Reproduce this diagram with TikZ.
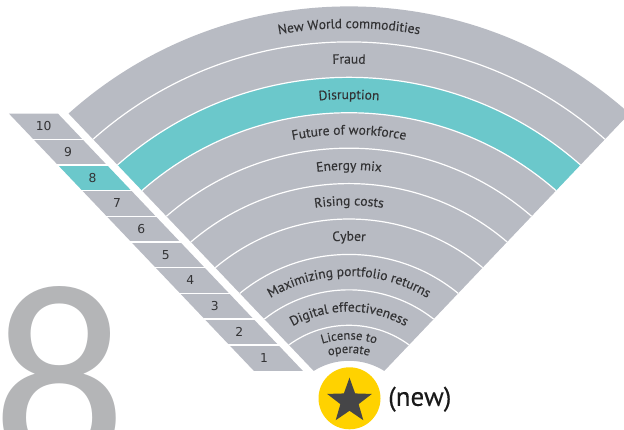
\documentclass[tikz,border=0pt]{standalone}
\usepackage{fontspec}
\setmainfont{PT Sans}[FakeBold=0.25]
\newfontfamily\numfont{DejaVu Sans}
\newfontfamily\eightfont{Carlito}
\usetikzlibrary{decorations.text,shapes.geometric}
\definecolor{bandgrey}{HTML}{B8BBC3}
\definecolor{bandteal}{HTML}{6BC8CB}
\definecolor{txt}{HTML}{333335}
\definecolor{eightgrey}{HTML}{B4B5B7}
\definecolor{badge}{HTML}{FFD200}
\definecolor{stargrey}{HTML}{454547}
\newcommand\lblfont{\fontsize{13.5}{16}\selectfont}
\newcommand\smallfont{\fontsize{12.5}{15}\selectfont}
\tikzset{
  arclabel/.style={decorate, decoration={text along path, text={|\lblfont|#1}, text align=center, text color=txt}},
  arcsmall/.style={decorate, decoration={text along path, text={|\smallfont|#1}, text align=center, text color=txt}},
  numlabel/.style={font=\numfont\fontsize{12.3}{14}\selectfont, text=txt, inner sep=0},
  sep/.style={white, line width=1.2}
}
\begin{document}
\begin{tikzpicture}[x=1pt,y=1pt]
\useasboundingbox (0,0) rectangle (624,430);
\clip (0,0) rectangle (624,430);

% big figure
\node[anchor=base west, inner sep=0, text=eightgrey, font=\eightfont\fontsize{265}{265}\selectfont] (eight) at (-8,-37.5) {8};

% rank strip
\foreach \ya/\yb/\num/\col in {316.33/290.79/10/bandgrey, 290.79/265.11/9/bandgrey, 265.11/239.44/8/bandteal, 239.44/213.76/7/bandgrey, 213.76/188.07/6/bandgrey, 188.07/162.38/5/bandgrey, 162.38/136.66/4/bandgrey, 136.66/110.91/3/bandgrey, 110.91/85.09/2/bandgrey, 85.09/59.11/1/bandgrey}{
  \pgfmathsetmacro\xa{289.2-0.952*(\ya-22)}
  \pgfmathsetmacro\xb{289.2-0.952*(\yb-22)}
  \fill[\col] (\xa,\ya) -- (\xa+49,\ya) -- (\xb+49,\yb) -- (\xb,\yb) -- cycle;
  \node[numlabel] (n\num) at ({(\xa+\xb)/2+22.5},{(\ya+\yb)/2}) {\num};
}
\foreach \y in {290.79,265.11,239.44,213.76,188.07,162.38,136.66,110.91,85.09}{
  \pgfmathsetmacro\xx{289.2-0.952*(\y-22)}
  \draw[sep, line width=1.4] (\xx-1,\y) -- (\xx+50,\y);
}

% fan
\begin{scope}
  \clip (349,22) -- (-64.8,456.5) -- (762.8,456.5) -- cycle;
  \foreach \k/\col in {0/bandgrey,1/bandgrey,2/bandteal,3/bandgrey,4/bandgrey,5/bandgrey,6/bandgrey,7/bandgrey,8/bandgrey,9/bandgrey}{
    \draw[\col, line width=35.6] (349,3) circle[radius={402.79-35.42*\k}];
  }
  \foreach \k in {1,...,9}{
    \draw[sep] (349,3) circle[radius={420.5-35.42*\k}];
  }
\end{scope}

% labels
\path[arclabel={New World commodities}] ([shift={(150:398.8)}]349,3) arc[start angle=150, end angle=30, radius=398.8];
\path[arclabel={Fraud}] ([shift={(150:363.4)}]349,3) arc[start angle=150, end angle=30, radius=363.4];
\path[arclabel={Disruption}] ([shift={(150:327.9)}]349,3) arc[start angle=150, end angle=30, radius=327.9];
\path[arclabel={Future of workforce}] ([shift={(150:292.5)}]349,3) arc[start angle=150, end angle=30, radius=292.5];
\path[arclabel={Energy mix}] ([shift={(150:257.1)}]349,3) arc[start angle=150, end angle=30, radius=257.1];
\path[arclabel={Rising costs}] ([shift={(150:221.7)}]349,3) arc[start angle=150, end angle=30, radius=221.7];
\path[arclabel={Cyber}] ([shift={(150:186.3)}]349,3) arc[start angle=150, end angle=30, radius=186.3];
\path[arclabel={Maximizing portfolio returns}] ([shift={(150:150.9)}]349,3) arc[start angle=150, end angle=30, radius=150.9];
\path[arclabel={Digital effectiveness}] ([shift={(150:115.4)}]349,3) arc[start angle=150, end angle=30, radius=115.4];
\path[arcsmall={License to}] ([shift={(160:87.5)}]349,3) arc[start angle=160, end angle=20, radius=87.5];
\path[arcsmall={operate}] ([shift={(160:74)}]349,3) arc[start angle=160, end angle=20, radius=74];

% badge
\node[circle, fill=badge, minimum size=62, inner sep=0] (badge) at (349.5,31.7) {};
\node[star, star points=5, star point ratio=2.45, minimum size=47, inner sep=0, fill=stargrey] (star) at (349.5,28.8) {};
\node[anchor=west, inner sep=0, font=\fontsize{27}{30}\selectfont, text=black!90] (new) at (388,30.8) {(new)};
\end{tikzpicture}
\end{document}
